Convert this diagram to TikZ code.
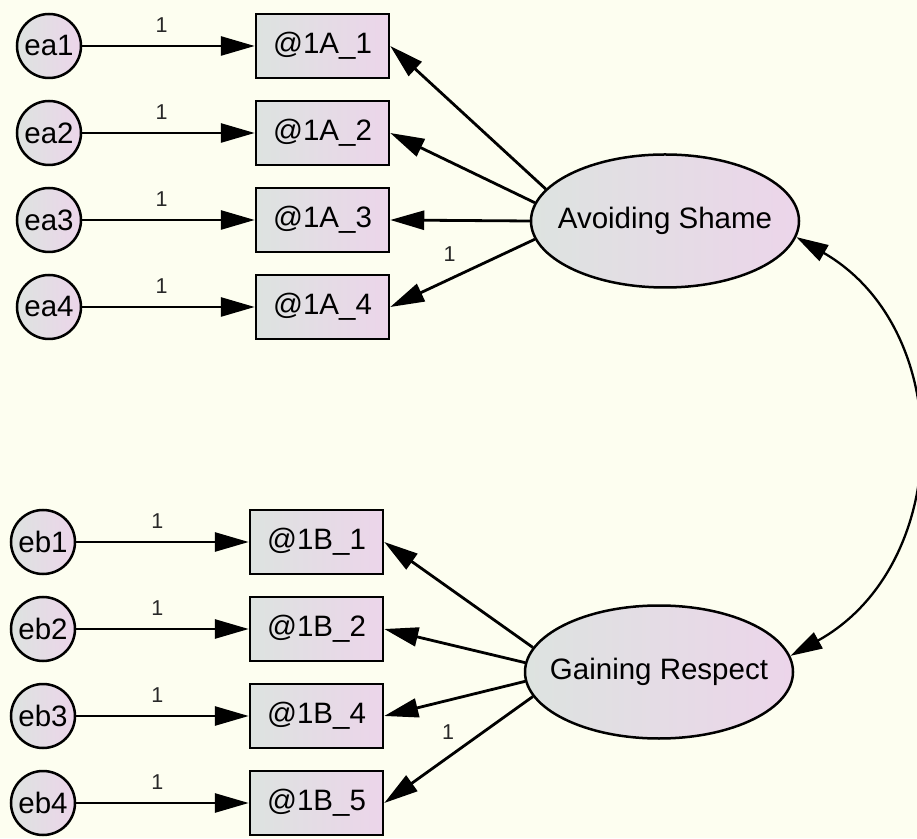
\documentclass[tikz,border=0pt]{standalone}
\usepackage{fontspec}
\setmainfont{Liberation Sans}
\usetikzlibrary{arrows.meta,shapes.geometric}
\definecolor{bg}{RGB}{253,254,240}
\definecolor{fillL}{RGB}{221,227,224}
\definecolor{fillR}{RGB}{236,213,234}
\definecolor{labgray}{RGB}{40,40,40}
\begin{document}
\begin{tikzpicture}[x=1pt,y=1pt,
  every node/.style={font=\fontsize{29.5}{31}\selectfont},
  grad/.style={left color=fillL, right color=fillR, draw=black, line width=2.5pt},
  err/.style={circle, grad, minimum size=64pt, inner sep=0pt},
  obs/.style={rectangle, grad, minimum width=133pt, minimum height=64pt, inner sep=0pt},
  lat/.style={ellipse, grad, minimum width=268pt, minimum height=133pt, inner sep=0pt},
  conn/.style={line width=2.8pt, -{Triangle[length=34pt,width=19pt]}},
  cov/.style={line width=2.3pt, {Triangle[length=32pt,width=18pt]}-{Triangle[length=32pt,width=18pt]}},
  lab/.style={font=\fontsize{21.5}{23}\selectfont, text=labgray, inner sep=0pt}]

% canvas
\fill[bg] (0,0) rectangle (917,838);
\useasboundingbox (0,0) rectangle (917,838);

% first factor: error terms, indicators, latent variable
\node[err] (ea1) at (49,792) {ea1};
\node[err] (ea2) at (49,705) {ea2};
\node[err] (ea3) at (49,618) {ea3};
\node[err] (ea4) at (49,531) {ea4};
\node[obs] (A1) at (322.5,792) {@1A\_1};
\node[obs] (A2) at (322.5,705) {@1A\_2};
\node[obs] (A3) at (322.5,618) {@1A\_3};
\node[obs] (A4) at (322.5,531) {@1A\_4};
\node[lat] (AS) at (665,617) {\makebox[0pt]{Avoiding Shame}};

% second factor
\node[err] (eb1) at (43,296) {eb1};
\node[err] (eb2) at (43,209) {eb2};
\node[err] (eb3) at (43,122) {eb3};
\node[err] (eb4) at (43,35) {eb4};
\node[obs] (B1) at (316.5,296) {@1B\_1};
\node[obs] (B2) at (316.5,209) {@1B\_2};
\node[obs] (B3) at (316.5,122) {@1B\_4};
\node[obs] (B4) at (316.5,35) {@1B\_5};
\node[lat] (GR) at (659,166) {\makebox[0pt]{Gaining Respect}};

% error paths with fixed weights
\foreach \e/\o in {ea1/A1,ea2/A2,ea3/A3,ea4/A4}
  \draw[conn] (\e) -- node[lab, pos=0.46, yshift=21pt] {1} (\o);
\foreach \e/\o in {eb1/B1,eb2/B2,eb3/B3,eb4/B4}
  \draw[conn] (\e) -- node[lab, pos=0.47, yshift=21pt] {1} (\o);

% factor loadings
\draw[conn] (AS.165) -- (A1.east);
\draw[conn] (AS.172) -- (A2.east);
\draw[conn] (AS.180) -- (A3.east);
\draw[conn] (AS.188) -- node[lab, pos=0.59, yshift=25pt] {1} (A4.east);
\draw[conn] (GR.169.5) -- (B1.east);
\draw[conn] (GR.176) -- (B2.east);
\draw[conn] (GR.184) -- (B3.east);
\draw[conn] (GR.191) -- node[lab, pos=0.57, yshift=25pt] {1} (B4.east);

% factor covariance
\draw[cov] (AS.-7) .. controls +(-30:186) and +(29:186) .. (GR.7);
\end{tikzpicture}
\end{document}
